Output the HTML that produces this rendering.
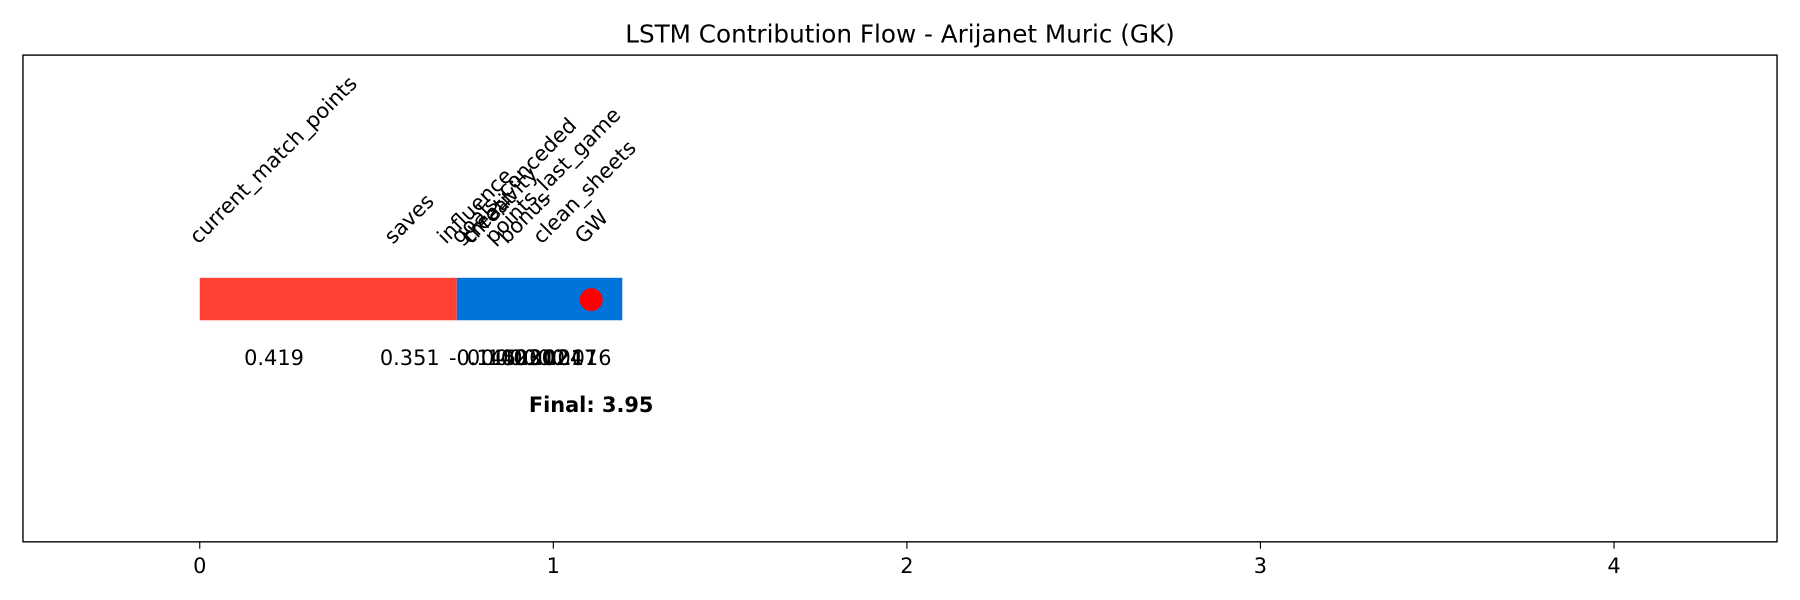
<!DOCTYPE html>
<html><head><meta charset="utf-8"><style>
html,body{margin:0;padding:0;background:#fff;}
svg{display:block;font-family:"DejaVu Sans","Liberation Sans",sans-serif;}
</style></head><body>
<svg id="chart" width="1800" height="600" viewBox="0 0 1568 522.67">
<text x="784" y="37" font-size="21.5" text-anchor="middle">LSTM Contribution Flow - Arijanet Muric (GK)</text>
<g id="plot"></g>
<rect x="20" y="48" width="1528" height="424" fill="none" stroke="#000" stroke-width="1.2"/>
</svg>
<script>
const features=["current_match_points","saves","influence","threat","creativity","goals_conceded","bonus","points_last_game","clean_sheets","GW"];
const values=[0.419,0.351,-0.145,0.140,0.023,0.020,0.012,0.024,0.017,0.016];
const labelCenters=[0.21,0.594,0.78,0.82,0.85,0.89,0.92,1.0,1.09,1.11];
const valueCenters=[0.21,0.594,0.80,0.84,0.88,0.92,0.96,1.0,1.04,1.08];
const redSpan=[0,0.727];
const blueSpan=[0.727,1.195];
const finalPoint=1.107;
const finalValue=3.95;
const xTicks=[0,1,2,3,4];

const NS="http://www.w3.org/2000/svg";
const g=document.getElementById('plot');
const X=v=>174+v*308;
const FS=18.2;
function el(t,a,txt){const e=document.createElementNS(NS,t);for(const k in a)e.setAttribute(k,a[k]);if(txt!==undefined)e.textContent=txt;g.appendChild(e);return e;}

let r=el('rect',{x:X(redSpan[0]),y:242,width:X(redSpan[1])-X(redSpan[0]),height:37,fill:'#ff4136'});


let b=el('rect',{x:X(blueSpan[0]),y:242,width:X(blueSpan[1])-X(blueSpan[0]),height:37,fill:'#0074d9'});


let c=el('circle',{cx:X(finalPoint),cy:261,r:10,fill:'#ff0000'});



features.forEach((f,i)=>{
  const t=el('text',{x:0,y:0,'font-size':FS,'text-anchor':'middle','dominant-baseline':'middle'},f);
  const L=t.getComputedTextLength();
  const cx=X(labelCenters[i]);
  const cy=216-(L*0.707+FS*0.707)/2;
  t.setAttribute('transform',`translate(${cx},${cy}) rotate(-45)`);
  
  
  const v=el('text',{x:X(valueCenters[i]),y:318,'font-size':FS,'text-anchor':'middle'},values[i].toFixed(3));
  
  
});
const ft=el('text',{x:X(finalPoint),y:359,'font-size':FS,'font-weight':'bold','text-anchor':'middle'},'Final: '+finalValue.toFixed(2));



xTicks.forEach(v=>{
  const l=el('line',{x1:X(v),x2:X(v),y1:472,y2:478,stroke:'#000','stroke-width':1});
  
  
  const t=el('text',{x:X(v),y:499,'font-size':FS,'text-anchor':'middle'},String(v));
  
  
});
</script>
</body></html>
